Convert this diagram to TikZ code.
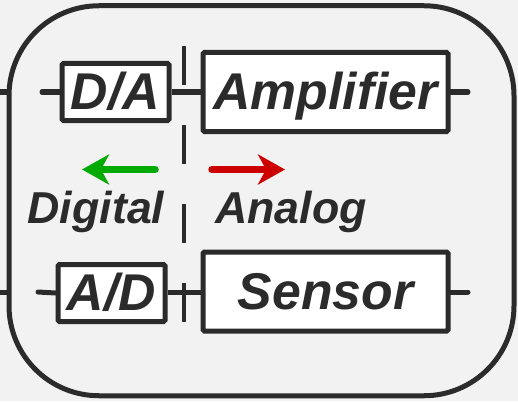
\documentclass[tikz,border=0pt]{standalone}
\usepackage{fontspec}
\usepackage{xcolor}
\usepackage{tikz}
\usetikzlibrary{arrows.meta, positioning}
\newfontfamily\boxfont{Liberation Sans}
\definecolor{BgGray}{HTML}{F2F2F2}
\definecolor{InkDark}{RGB}{43,43,43}
\definecolor{DigGreen}{HTML}{00AA00}
\definecolor{AnaRed}{HTML}{CC0000}
\tikzset{
  % Blocchi
  block/.style={draw=InkDark,line width=5pt,fill=white,rounded corners=1.5pt,
    text=InkDark,font=\boxfont\bfseries\itshape\fontsize{51.7}{60}\selectfont,
    text height=35pt,text depth=0pt,inner sep=0pt},
  block small/.style={block,minimum width=107pt,minimum height=57pt},
  block big/.style={block,minimum width=245pt,minimum height=79pt},
  board/.style={draw=InkDark,line width=5pt,rounded corners=90pt,
    minimum width=505pt,minimum height=390pt,inner sep=0pt},
  % Connessioni
  wire/.style={draw=InkDark,line width=5pt},
  stub/.style={wire,line cap=round},
  border/.style={draw=InkDark,line width=4.3pt,dash pattern=on 39pt off 40pt},
  dir arrow/.style={line width=7.5pt,line cap=round,
    -{Stealth[length=27pt,width=30pt,inset=8pt]}},
  side label/.style={text=InkDark,font=\boxfont\bfseries\itshape\fontsize{44.7}{52}\selectfont,
    anchor=base,inner sep=0pt}
}
\begin{document}
\begin{tikzpicture}[x=1pt,y=-1pt]
    \useasboundingbox[fill=BgGray] (0,0) rectangle (518,401);
    % scheda
    \node[board] (brd) at (261.5,200.75) {};
    % blocchi
    \node[block small] (da) at (115.5,92) {D/A};
    \node[block big] (amp) at (325.5,92) {Amplifier};
    \node[block small] (ad) at (111.5,293) {A/D};
    \node[block big] (sen) at (325.5,291.5) {Sensor};
    % terminali
    \coordinate (dain) at (42,92);
    \coordinate (adin) at (38,292);
    \coordinate (ampout) at (468,92);
    \coordinate (senout) at (468,292);
    \coordinate (ext1) at (0,92);
    \coordinate (ext2) at (0,292);
    \draw[stub] (dain) -- (da.west);
    \draw[stub] (adin) -- (ad.west);
    \draw[stub] (amp.east) -- (ampout);
    \draw[stub] (sen.east |- senout) -- (senout);
    \draw[wire] (da.east) -- (amp.west);
    \draw[wire] (ad.east |- senout) -- (sen.west |- senout);
    \draw[wire] (ext1) -- (brd.west |- ext1);
    \draw[wire] (ext2) -- (brd.west |- ext2);
    % confine digitale / analogico
    \coordinate (bdtop) at (184,46);
    \coordinate (bdbot) at (184,323);
    \draw[border] (bdtop) -- (bdbot);
    % frecce
    \coordinate (gfrom) at (155,169.5);
    \coordinate (gto) at (82,169.5);
    \coordinate (rfrom) at (212,169.5);
    \coordinate (rto) at (285,169.5);
    \draw[dir arrow,DigGreen] (gfrom) -- (gto);
    \draw[dir arrow,AnaRed] (rfrom) -- (rto);
    \node[side label] (dig) at (96,223) {Digital};
    \node[side label] (ana) at (291,223) {Analog};
\end{tikzpicture}
\end{document}
